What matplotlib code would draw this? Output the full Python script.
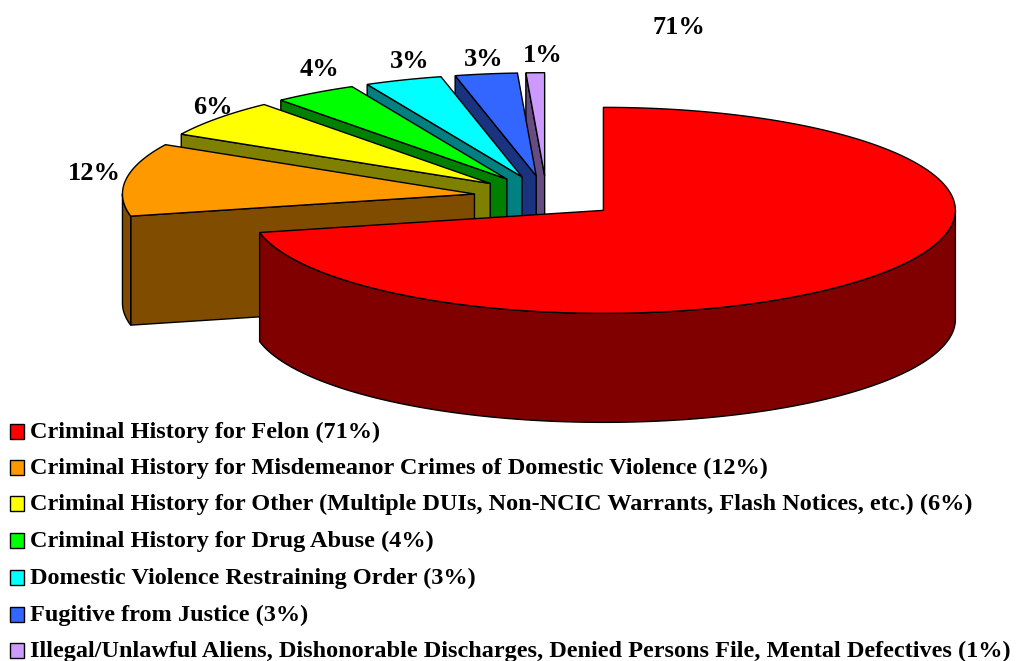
#!/usr/bin/env python3
"""Exploded 3D-style pie of denial reasons, drawn with polygons."""
import matplotlib
matplotlib.use("Agg")
import matplotlib.pyplot as plt
import numpy as np

# slices, clockwise from 12 o'clock
LABELS = [
    "Criminal History for Felon (71%)",
    "Criminal History for Misdemeanor Crimes of Domestic Violence (12%)",
    "Criminal History for Other (Multiple DUIs, Non-NCIC Warrants, Flash Notices, etc.) (6%)",
    "Criminal History for Drug Abuse (4%)",
    "Domestic Violence Restraining Order (3%)",
    "Fugitive from Justice (3%)",
    "Illegal/Unlawful Aliens, Dishonorable Discharges, Denied Persons File, Mental Defectives (1%)",
]
# the printed labels are rounded
VALUES = [71.55, 11.4, 5.95, 3.85, 3.55, 2.85, 0.85]
TOP_COLORS = ["#FF0000", "#FF9900", "#FFFF00", "#00FF00", "#00FFFF", "#3366FF", "#CC99FF"]
SIDE_COLORS = ["#800000", "#804C00", "#808000", "#008000", "#008080", "#1A3380", "#664C80"]
PCT_TEXT = ["71%", "12%", "6%", "4%", "3%", "3%", "1%"]
PCT_X = [679, 94, 213, 319, 410, 484, 543]
PCT_Y = [28, 173, 107, 70, 62, 59, 56]

# pie geometry, in image pixels
CX, CY = 546.6, 197.0
RX, RY = 352.0, 103.0
EXPLODE = 0.207
DEPTH = 109.0

LEGEND_Y = [431, 467, 503, 540, 577, 614, 650]
SERIF = "Liberation Serif"


def rim(theta, ox, oy):
    return ox + RX * np.sin(theta), oy - RY * np.cos(theta)


def poly(ax, xs, ys, color, z):
    ax.fill(xs, ys, facecolor=color, edgecolor="black", linewidth=1.0,
            joinstyle="miter", zorder=z)


def draw_slice(ax, start, end, top, side, z):
    mid = (start + end) / 2
    ox = CX + EXPLODE * RX * np.sin(mid)
    oy = CY - EXPLODE * RY * np.cos(mid)
    t = np.linspace(start, end, 200)
    ax_, ay_ = rim(t, ox, oy)

    # radial wall on the leading edge, only faces us for left-hand slices
    if start > np.pi:
        ex, ey = rim(start, ox, oy)
        poly(ax, [ox, ex, ex, ox], [oy, ey, ey + DEPTH, oy + DEPTH], side, z)

    # outer wall, front half of the ellipse only
    lo, hi = max(start, np.pi / 2), min(end, 3 * np.pi / 2)
    if hi > lo:
        w = np.linspace(lo, hi, 200)
        wx, wy = rim(w, ox, oy)
        poly(ax, np.r_[wx, wx[::-1]], np.r_[wy, wy[::-1] + DEPTH], side, z)

    poly(ax, np.r_[ox, ax_], np.r_[oy, ay_], top, z + 0.5)


def main():
    fig = plt.figure(figsize=(10.31, 6.61), dpi=100)
    ax = fig.add_axes([0, 0, 1, 1])
    ax.set_xlim(0, 1031)
    ax.set_ylim(661, 0)
    ax.axis("off")

    edges = np.r_[0, np.cumsum(VALUES)] / sum(VALUES) * 2 * np.pi

    # back to front: smallest slice first, the big one last
    for i in range(len(VALUES) - 1, -1, -1):
        z = 2 + (len(VALUES) - i)
        draw_slice(ax, edges[i], edges[i + 1], TOP_COLORS[i], SIDE_COLORS[i], z)

    for s, x, y in zip(PCT_TEXT, PCT_X, PCT_Y):
        ax.text(x, y, s, family=SERIF, weight="bold", fontsize=19,
                ha="center", va="center", color="black", zorder=20)

    for i, y in enumerate(LEGEND_Y):
        ax.fill([10, 24, 24, 10], [y - 7.5, y - 7.5, y + 7.5, y + 7.5],
                facecolor=TOP_COLORS[i], edgecolor="black", linewidth=1.0, zorder=20)
        ax.text(30, y + 7, LABELS[i], family=SERIF, weight="bold", fontsize=17.5,
                ha="left", va="baseline", color="black", zorder=20)

    fig.savefig("out.png", dpi=100, facecolor="white")


if __name__ == "__main__":
    main()
